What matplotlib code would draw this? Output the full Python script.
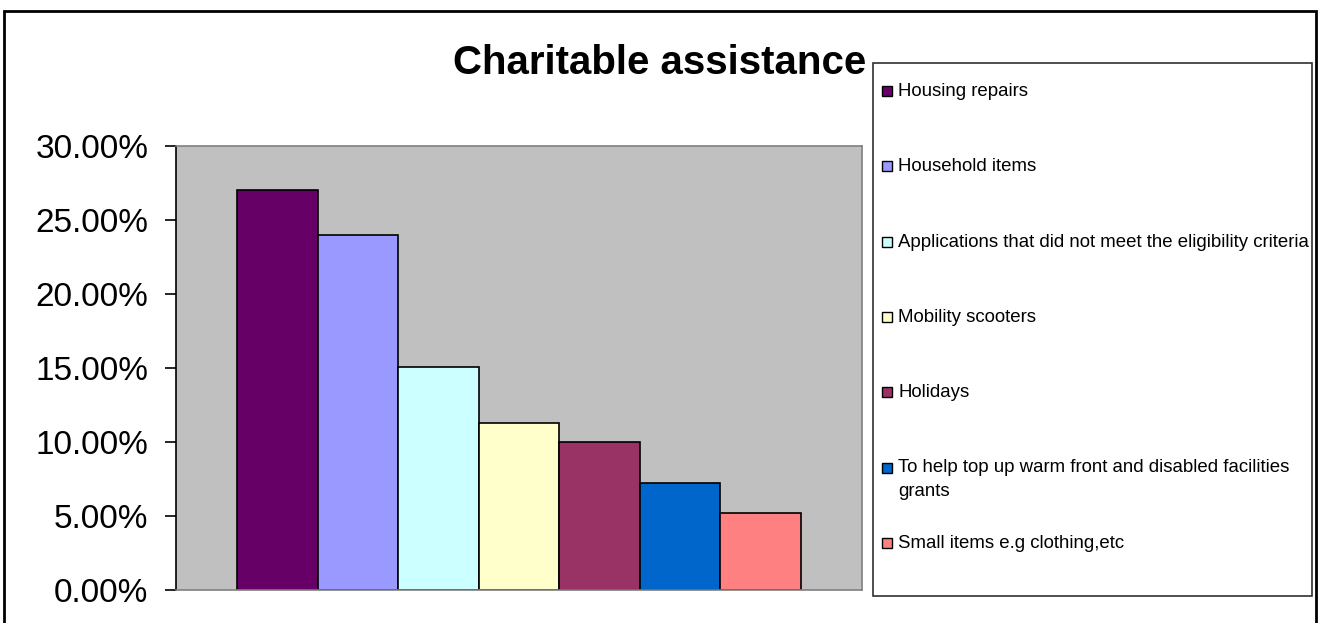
import matplotlib.pyplot as plt
import numpy as np
from matplotlib.patches import Rectangle
from matplotlib.ticker import FuncFormatter

plt.rcParams["font.family"] = ["Liberation Sans", "DejaVu Sans"]

# share of grants by purpose
categories = [
    "Housing repairs",
    "Household items",
    "Applications that did not meet the eligibility criteria",
    "Mobility scooters",
    "Holidays",
    "To help top up warm front and disabled facilities\ngrants",
    "Small items e.g clothing,etc",
]
shares = [0.270, 0.240, 0.151, 0.113, 0.100, 0.072, 0.052]
colors = ["#660066", "#9999FF", "#CCFFFF", "#FFFFCC", "#993366", "#0066CC", "#FF8080"]
yticks = [0.0, 0.05, 0.10, 0.15, 0.20, 0.25, 0.30]

W, H = 1320, 623
fig = plt.figure(figsize=(W / 100, H / 100), dpi=100)


def fx(px):
    return px / W


def fy(py):
    return 1 - py / H


# outer chart frame (bottom edge runs off the page)
fig.patches.append(Rectangle((fx(4), fy(640)), fx(1316) - fx(4), fy(11) - fy(640),
                             transform=fig.transFigure, fill=False,
                             edgecolor="black", linewidth=2))

ax = fig.add_axes([fx(176), fy(590), fx(862) - fx(176), fy(146) - fy(590)])
ax.set_facecolor("#C0C0C0")

x = np.arange(len(categories))
ax.bar(x, shares, width=1.0, color=colors, edgecolor="black", linewidth=1.2, zorder=2)

ax.set_xlim(-1.257, len(categories) - 1 + 1.257)
ax.set_ylim(0, 0.30)
ax.set_xticks([])
ax.set_yticks(yticks)
ax.yaxis.set_major_formatter(FuncFormatter(lambda v, _: f"{v * 100:.2f}%"))
ax.tick_params(axis="y", direction="out", length=8, width=1.2, pad=12,
               labelsize=24, color="black")
for side in ("top", "right", "bottom"):
    ax.spines[side].set_color("#808080")
    ax.spines[side].set_linewidth(1.2)
ax.spines["left"].set_color("black")
ax.spines["left"].set_linewidth(1.2)

fig.text(fx(660), fy(74), "Charitable assistance", ha="center", va="baseline",
         fontsize=29, fontweight="bold")

# legend box drawn by hand so the wrapped entry keeps its marker on the first line
leg_left, leg_right, leg_top, leg_bottom = 873, 1312, 63, 596
fig.patches.append(Rectangle((fx(leg_left), fy(leg_bottom)),
                             fx(leg_right) - fx(leg_left), fy(leg_top) - fy(leg_bottom),
                             transform=fig.transFigure, facecolor="white",
                             edgecolor="#303030", linewidth=1.2, zorder=3))
row0, row_step, box = 91, 75.3, 10
for i, (label, c) in enumerate(zip(categories, colors)):
    yc = row0 + i * row_step
    fig.patches.append(Rectangle((fx(882), fy(yc + box / 2)), fx(box), box / H,
                                 transform=fig.transFigure, facecolor=c,
                                 edgecolor="black", linewidth=1, zorder=4))
    for j, line in enumerate(label.split("\n")):
        fig.text(fx(898), fy(yc + 5 + j * 24), line, ha="left", va="baseline",
                 fontsize=13.4, zorder=5)

fig.savefig("out.png", dpi=100)
